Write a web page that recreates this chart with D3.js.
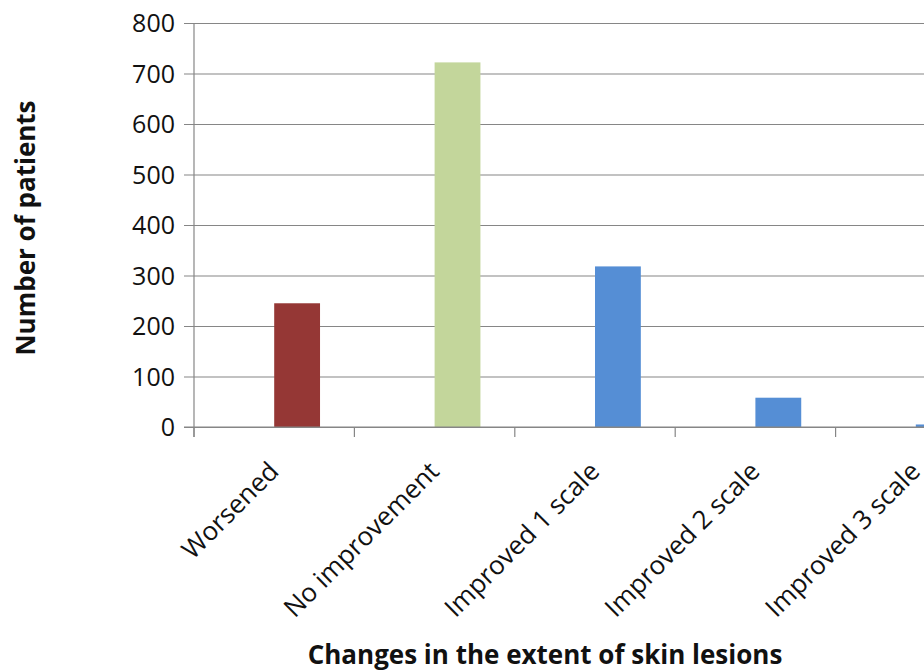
<!DOCTYPE html>
<html>
<head>
<meta charset="utf-8">
<script src="https://cdn.jsdelivr.net/npm/d3@7"></script>
<style>
  html, body { margin: 0; padding: 0; background: #fff; }
  svg { display: block; }
</style>
</head>
<body>
<svg id="chart" width="924" height="671"></svg>
<script>
const categories = ["Worsened", "No improvement", "Improved 1 scale", "Improved 2 scale", "Improved 3 scale"];
const patients = [245, 722, 318, 58, 5];
const barColors = ["#953735", "#C3D69B", "#558ED5", "#558ED5", "#558ED5"];
const yTicks = [0, 100, 200, 300, 400, 500, 600, 700, 800];
const xTitle = "Changes in the extent of skin lesions";
const yTitle = "Number of patients";

(function () {
const svg = d3.select("#chart");
const mLeft = 194, mTop = 23, mBottom = 427;
const step = 160.4;
const font = "'Open Sans', 'DejaVu Sans', sans-serif";

const x = d3.scaleBand().domain(categories).range([mLeft, mLeft + step * categories.length]).padding(0);
const y = d3.scaleLinear().domain([0, 800]).range([mBottom, mTop]);

// gridlines + y ticks
const yAxis = d3.axisLeft(y).tickValues(yTicks).tickSize(-(924 - mLeft)).tickSizeOuter(0).tickPadding(19);
const gy = svg.append("g").attr("transform", `translate(${mLeft},0)`).call(yAxis);
gy.select(".domain").remove();
gy.selectAll(".tick line").attr("stroke", "#868686").attr("stroke-width", 1.2).attr("x1", -10);
gy.selectAll(".tick text")
  .attr("font-family", font).attr("font-size", 25).attr("fill", "#111")
  .attr("dy", "0.34em");

// y axis line
svg.append("line").attr("x1", mLeft).attr("x2", mLeft).attr("y1", mTop).attr("y2", mBottom + 10)
  .attr("stroke", "#868686").attr("stroke-width", 1.2);

// x axis ticks at band boundaries
const boundaries = categories.map(c => x(c)).concat([x(categories[categories.length - 1]) + x.bandwidth()]);
svg.append("g").selectAll("line").data(boundaries).join("line")
  .attr("x1", d => d).attr("x2", d => d).attr("y1", mBottom).attr("y2", mBottom + 10)
  .attr("stroke", "#868686").attr("stroke-width", 1.2);

// bars (second slot of a two-slot cluster)
const bw = x.bandwidth();
svg.append("g").selectAll("rect").data(categories).join("rect")
  .attr("x", (d) => x(d) + bw * 0.5)
  .attr("width", bw / 3.5)
  .attr("y", (d, i) => y(patients[i]))
  .attr("height", (d, i) => y(0) - y(patients[i]))
  .attr("fill", (d, i) => barColors[i]);

// x axis line
svg.append("line").attr("x1", mLeft - 10).attr("x2", 924).attr("y1", mBottom).attr("y2", mBottom)
  .attr("stroke", "#868686").attr("stroke-width", 1.2);

// x labels
svg.append("g").selectAll("text").data(categories).join("text")
  .attr("transform", d => `translate(${x(d) + bw / 2 + 6},${mBottom + 46}) rotate(-45)`)
  .attr("text-anchor", "end")
  .attr("font-family", font).attr("font-size", 26).attr("fill", "#111")
  .text(d => d);

// axis titles
svg.append("text")
  .attr("x", 545).attr("y", 664)
  .attr("text-anchor", "middle")
  .attr("font-family", font).attr("font-size", 26).attr("font-weight", "bold").attr("fill", "#111")
  .text(xTitle);

svg.append("text")
  .attr("transform", `translate(35,228) rotate(-90)`)
  .attr("text-anchor", "middle")
  .attr("font-family", font).attr("font-size", 26).attr("font-weight", "bold").attr("fill", "#111")
  .text(yTitle);
})();
</script>
</body>
</html>
